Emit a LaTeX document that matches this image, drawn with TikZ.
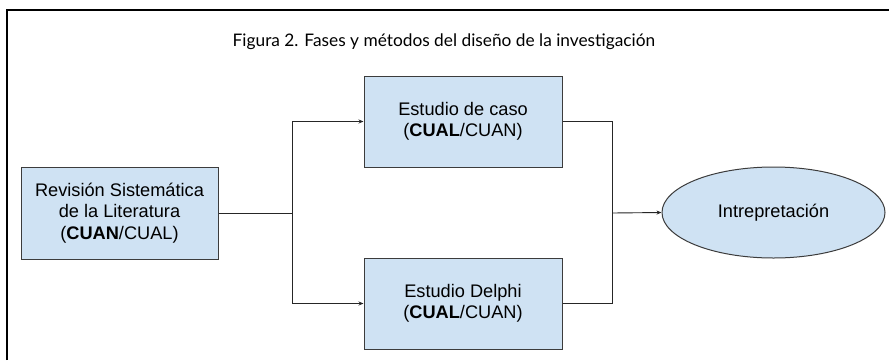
\documentclass[tikz,border=0pt]{standalone}
\usepackage{fontspec}
\setmainfont{Liberation Sans}
\newfontfamily\titlefont{Lato}
\usetikzlibrary{shapes.geometric,arrows.meta}
\definecolor{boxfill}{HTML}{CFE2F3}
\definecolor{boxline}{HTML}{3C3C3C}
\tikzset{
  box/.style={draw=boxline, fill=boxfill, line width=1pt, align=center,
    font=\fontsize{18.2}{21.5}\selectfont, inner sep=0pt},
  conn/.style={draw=black!85, line width=0.9pt},
  arr/.style={conn, -{Stealth[length=5pt,width=4pt]}},
}
\begin{document}
\begin{tikzpicture}[x=1pt,y=-1pt]
\useasboundingbox (0,0) rectangle (889,360);
\fill[white] (0,0) rectangle (889,360);
\draw[line width=1.5pt] (7,360) -- (7,10) -- (889,10);
\node[font=\titlefont\fontsize{17.3}{20}\selectfont] (title) at (444,42) {Figura 2. Fases y métodos del diseño de la investigación};
\node[box, minimum width=197pt, minimum height=92pt] (rsl) at (119.5,213) {Revisión Sistemática\\de la Literatura\\(\textbf{CUAN}/CUAL)};
\node[box, minimum width=198pt, minimum height=91pt] (caso) at (463,121.5) {Estudio de caso\\(\textbf{CUAL}/CUAN)};
\node[box, minimum width=198pt, minimum height=91pt] (delphi) at (463,303.5) {Estudio Delphi\\(\textbf{CUAL}/CUAN)};
\node[box, ellipse, minimum width=223pt, minimum height=91pt] (interp) at (773.5,212.5) {Intrepretación};
\coordinate (split) at (292,213);
\coordinate (join) at (612,213);
\draw[conn] (rsl.east) -- (split);
\draw[arr] (split) |- (caso.west);
\draw[arr] (split) |- (delphi.west);
\draw[conn] (caso.east) -| (join);
\draw[conn] (delphi.east) -| (join);
\draw[arr] (join) -- (interp.west);
\end{tikzpicture}
\end{document}
